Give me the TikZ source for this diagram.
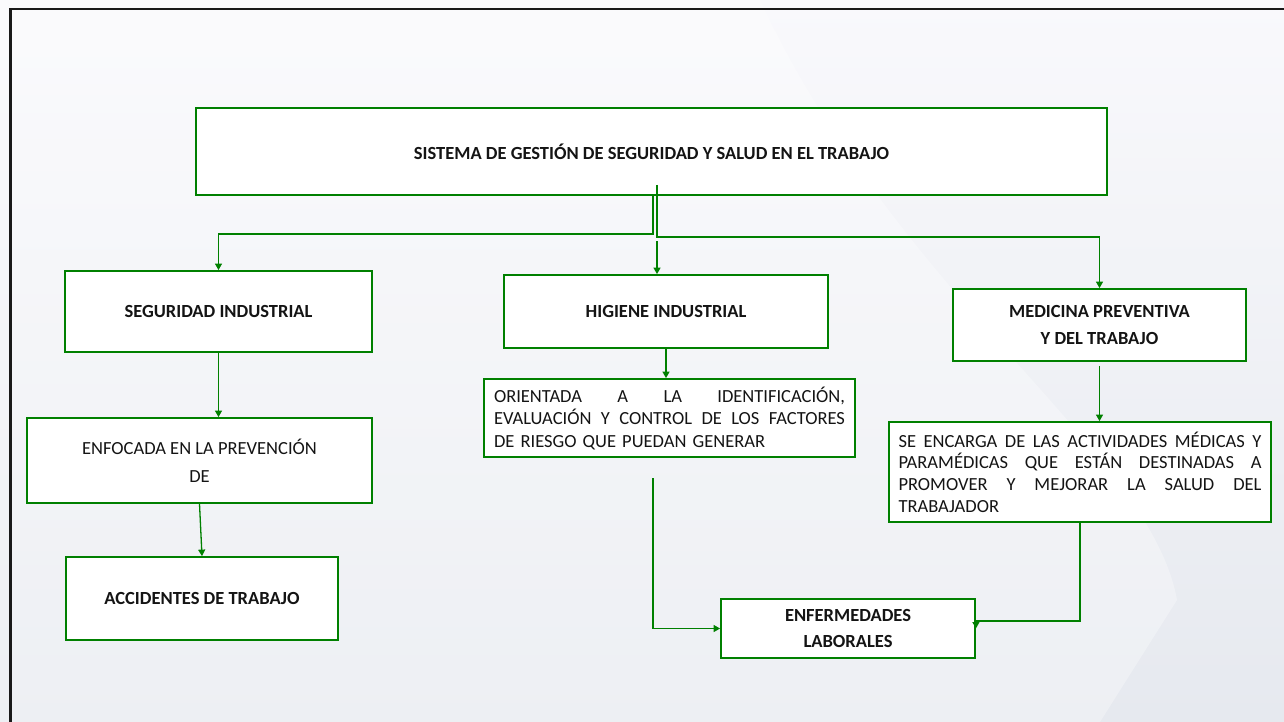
\documentclass[tikz,border=0pt]{standalone}
\usepackage{fontspec}
\setmainfont{Carlito}
\usetikzlibrary{arrows.meta,calc}
\definecolor{boxgreen}{RGB}{0,128,0}
\definecolor{bgL}{RGB}{249,249,252}
\definecolor{bgR}{RGB}{230,233,239}
\definecolor{ink}{RGB}{20,20,20}
\definecolor{frame}{RGB}{25,25,25}

% one fully justified line: the word spaces stretch to fill the width
\newcommand\justline[2]{\hbox to #1{\spaceskip=0.226em plus 1fil\relax #2}}
% last line of a paragraph: natural spaces, left aligned
\newcommand\lastline[2]{\hbox to #1{#2\hfill}}

\begin{document}
\begin{tikzpicture}[x=1pt,y=-1pt,
  box/.style={draw=boxgreen, line width=1.8pt, fill=white, inner sep=0pt,
    text=ink, align=center, font=\fontsize{18.5}{22.2}\selectfont},
  title/.style={box, font=\fontsize{18.5}{22.2}\selectfont\bfseries},
  conn/.style={draw=boxgreen, line width=1.3pt, -{Triangle[length=6.5pt,width=7pt]}}]

  % page background and frame
  \useasboundingbox (0,0) rectangle (1284,722);
  \shade[left color=bgL, right color=bgR, shading angle=0] (0,0) rectangle (1284,722);
  \fill[white, opacity=0.3] (0,0) -- (760,0) .. controls (900,300) and (1150,450) .. (1177,600) -- (1100,722) -- (0,722) -- cycle;
  \draw[frame, line width=2.4pt] (10.5,722) -- (10.5,9.3) -- (1284,9.3);

  % boxes
  \node[title, minimum width=911pt, minimum height=87pt] (main) at (651.5,151.5)
    {SISTEMA DE GESTIÓN DE SEGURIDAD Y SALUD EN EL TRABAJO};
  \node[title, minimum width=307pt, minimum height=81pt] (seg) at (218.5,311.5)
    {SEGURIDAD INDUSTRIAL};
  \node[title, minimum width=324pt, minimum height=73pt] (hig) at (666,311.5)
    {HIGIENE INDUSTRIAL};
  \node[title, minimum width=293pt, minimum height=72pt,
        font=\fontsize{18.5}{27}\selectfont\bfseries] (med) at (1099.5,325)
    {MEDICINA PREVENTIVA\\Y DEL TRABAJO};
  \node[box, minimum width=345pt, minimum height=85pt,
        font=\fontsize{18.5}{28}\selectfont] (enf) at (199.5,460.5)
    {ENFOCADA EN LA PREVENCIÓN\\DE};
  \node[title, minimum width=272pt, minimum height=83pt] (acc) at (202,598.5)
    {ACCIDENTES DE TRABAJO};
  \node[box, minimum width=371pt, minimum height=78pt, inner xsep=10pt,
        text width=351pt, align=left,
        font=\fontsize{18.5}{22.5}\selectfont] (ori) at (669.5,418)
    {\justline{351pt}{ORIENTADA A LA IDENTIFICACIÓN,}
     \justline{351pt}{EVALUACIÓN Y CONTROL DE LOS FACTORES}
     \lastline{351pt}{DE RIESGO QUE PUEDAN GENERAR}};
  \node[box, minimum width=382pt, minimum height=100pt, inner xsep=9.5pt,
        text width=363pt, align=left,
        font=\fontsize{18.5}{21.7}\selectfont] (sen) at (1080,472)
    {\justline{363pt}{SE ENCARGA DE LAS ACTIVIDADES MÉDICAS Y}
     \justline{363pt}{PARAMÉDICAS QUE ESTÁN DESTINADAS A}
     \justline{363pt}{PROMOVER Y MEJORAR LA SALUD DEL}
     \lastline{363pt}{TRABAJADOR}};
  \node[title, minimum width=254pt, minimum height=59pt,
        font=\fontsize{18.5}{26}\selectfont\bfseries] (enfer) at (848,628.5)
    {ENFERMEDADES\\LABORALES};

  % branch points of the connectors
  \coordinate (jl) at (653,196);
  \coordinate (bl) at (653,234);
  \coordinate (jr) at (657,185);
  \coordinate (br) at (657,237);
  \coordinate (jc) at (657,241);
  \coordinate (oc) at (653,478);
  \coordinate (er) at ($(enfer.north east)+(0,23)$);

  % connectors
  \draw[conn] (jl) -- (bl) -| (seg.north);
  \draw[conn] (jr) -- (br) -| (med.north);
  \draw[conn] (jc) -- (jc |- hig.north);
  \draw[conn] (seg.south) -- (seg.south |- enf.north);
  \draw[conn] (enf.south) -- (acc.north);
  \draw[conn] (hig.south) -- (hig.south |- ori.north);
  \draw[conn] ([yshift=-4pt]med.south) -- (med.south |- sen.north);
  \draw[conn] (oc) |- (enfer.west);
  \draw[conn] (sen.south) |- (er) -- (enfer.east);
\end{tikzpicture}
\end{document}
